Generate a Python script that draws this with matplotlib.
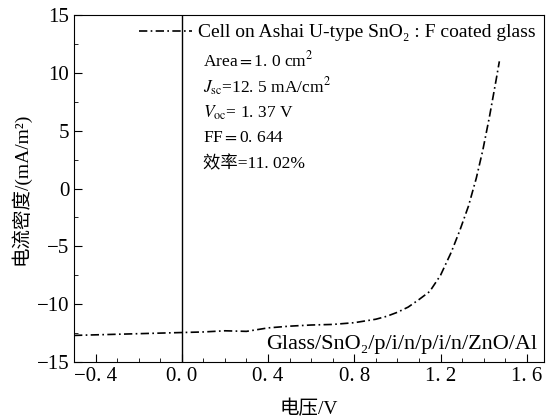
import matplotlib
matplotlib.use("Agg")
import matplotlib.pyplot as plt
from matplotlib.ticker import MultipleLocator

plt.rcParams['font.family'] = ['Liberation Serif', 'DejaVu Serif', 'Noto Sans CJK SC']
plt.rcParams['mathtext.fontset'] = 'stix'

# J-V curve
voltage = [-0.5, -0.4, -0.3, -0.2, -0.1, 0.0, 0.1, 0.2, 0.3, 0.4, 0.5, 0.6, 0.7,
           0.8, 0.9, 0.95, 1.0, 1.05, 1.1, 1.15, 1.2, 1.25, 1.29, 1.33, 1.366,
           1.396, 1.427, 1.458, 1.473]
current = [-12.7, -12.65, -12.6, -12.55, -12.5, -12.45, -12.4, -12.3, -12.35,
           -12.05, -11.9, -11.8, -11.75, -11.6, -11.3, -11.05, -10.7, -10.25,
           -9.6, -8.9, -7.5, -5.5, -3.6, -1.5, 0.9, 3.3, 6.2, 9.4, 11.0]

xticks = [-0.4, 0.0, 0.4, 0.8, 1.2, 1.6]
xlabels = ['\u22120. 4', '0. 0', '0. 4', '0. 8', '1. 2', '1. 6']
yticks = [-15, -10, -5, 0, 5, 10, 15]
ylabels = ['\u221215', '\u221210', '\u22125', '0', '5', '10', '15']

info = ['Area$=$1. 0 cm$^2$',
        '$J_{\\rm sc}$=12. 5 mA/cm$^2$',
        '$V_{\\rm oc}$= 1. 37 V',
        'FF$=$0. 644',
        '效率=11. 02%']

fig = plt.figure(figsize=(5.47, 4.19), dpi=100)
ax = fig.add_axes([0.1353, 0.136, 0.8592, 0.828])

ax.plot(voltage, current, color='black', lw=1.2, linestyle=(0, (5, 2, 1, 2)),
        label='Cell on Ashai U-type SnO\u2082 : F coated glass')
ax.axvline(0, color='black', lw=1)

ax.set_xlim(-0.5, 1.68)
ax.set_ylim(-15, 15)
ax.set_xticks(xticks)
ax.set_xticklabels(xlabels)
ax.set_yticks(yticks)
ax.set_yticklabels(ylabels)
ax.xaxis.set_minor_locator(MultipleLocator(0.1))
ax.yaxis.set_minor_locator(MultipleLocator(2.5))
ax.tick_params(which='both', direction='in', labelsize=15, top=False, right=False)
ax.tick_params(which='major', length=6)
ax.tick_params(which='minor', length=3)

ax.set_xlabel('电压/V', fontsize=14, labelpad=10)
ax.set_ylabel('电流密度/(mA/m\u00b2)', fontsize=14, labelpad=4)

ax.legend(loc='upper right', bbox_to_anchor=(1.0, 1.0), frameon=False,
          fontsize=14, handlelength=2.7, handletextpad=0.3, borderaxespad=0.15,
          borderpad=0.3)

for i, t in enumerate(info):
    ax.text(0.274, 0.868 - i * 0.0742, t, transform=ax.transAxes, fontsize=12.5,
            va='center', ha='left')

ax.text(0.985, 0.05, 'Glass/SnO\u2082/p/i/n/p/i/n/ZnO/Al',
        transform=ax.transAxes, fontsize=16, ha='right', va='center')

fig.savefig('out.png', dpi=100)
